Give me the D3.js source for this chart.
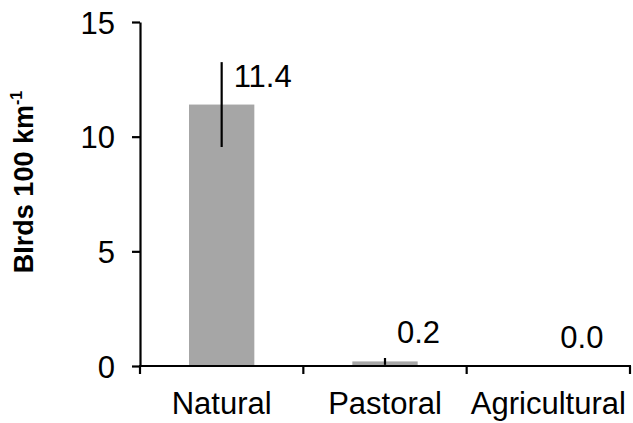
<!DOCTYPE html>
<html>
<head>
<meta charset="utf-8">
<script src="https://cdn.jsdelivr.net/npm/d3@7"></script>
<style>
html,body{margin:0;padding:0;background:#fff;}
svg{display:block;font-family:Arial,"Liberation Sans",sans-serif;}
</style>
</head>
<body>
<svg id="chart" width="633" height="423"></svg>
<script>
const categories = ["Natural", "Pastoral", "Agricultural"];
const values = [11.4, 0.2, 0.0];
const errors = [1.85, 0.15, 0];
const valueLabels = ["11.4", "0.2", "0.0"];
const yTicks = [0, 5, 10, 15];

const svg = d3.select("#chart");
const mLeft = 140, mRight = 630, mTop = 22, mBottom = 366;
const fs = 31;

const x = d3.scaleBand().domain(categories).range([mLeft, mRight]).padding(0);
const y = d3.scaleLinear().domain([0, 15]).range([mBottom, mTop]);
const barW = x.bandwidth() * 0.4;

// bars
svg.selectAll("rect.bar").data(categories).enter().append("rect")
  .attr("class", "bar")
  .attr("x", (d) => x(d) + x.bandwidth() / 2 - barW / 2)
  .attr("width", barW)
  .attr("y", (d, i) => y(values[i]))
  .attr("height", (d, i) => y(0) - y(values[i]))
  .attr("fill", "#a6a6a6");

// error bars
svg.selectAll("line.err").data(categories.filter((d, i) => errors[i] > 0)).enter().append("line")
  .attr("class", "err")
  .attr("x1", (d) => x(d) + x.bandwidth() / 2)
  .attr("x2", (d) => x(d) + x.bandwidth() / 2)
  .attr("y1", (d) => { const i = categories.indexOf(d); return y(values[i] + errors[i]); })
  .attr("y2", (d) => { const i = categories.indexOf(d); return y(Math.max(0, values[i] - errors[i])); })
  .attr("stroke", "#000").attr("stroke-width", 2.2);

// value labels
svg.selectAll("text.val").data(categories).enter().append("text")
  .attr("class", "val")
  .attr("x", (d) => x(d) + x.bandwidth() / 2 + 12)
  .attr("y", (d, i) => y(values[i]) - 18)
  .attr("font-size", fs)
  .text((d, i) => valueLabels[i]);

// y axis
const yAxis = svg.append("g").attr("transform", `translate(${mLeft},0)`)
  .call(d3.axisLeft(y).tickValues(yTicks).tickSize(8).tickSizeOuter(0).tickPadding(17).tickFormat(d3.format("d")));
yAxis.select(".domain").attr("stroke", "#000").attr("stroke-width", 2.2);
yAxis.selectAll(".tick line").attr("stroke", "#000").attr("stroke-width", 2.2);
yAxis.selectAll(".tick text").attr("font-size", fs).attr("fill", "#000").attr("font-family", "Arial, Liberation Sans, sans-serif").attr("dy", "0.36em");

// x axis line
svg.append("line").attr("x1", mLeft - 1).attr("x2", mRight + 1).attr("y1", mBottom).attr("y2", mBottom)
  .attr("stroke", "#000").attr("stroke-width", 2.2);
// boundary ticks
const bounds = categories.map((c) => x(c)).concat([x(categories[categories.length - 1]) + x.bandwidth()]);
svg.selectAll("line.xt").data(bounds).enter().append("line")
  .attr("class", "xt")
  .attr("x1", (d) => d).attr("x2", (d) => d)
  .attr("y1", mBottom).attr("y2", mBottom + 8)
  .attr("stroke", "#000").attr("stroke-width", 2.2);
// category labels
svg.selectAll("text.cat").data(categories).enter().append("text")
  .attr("class", "cat")
  .attr("x", (d) => x(d) + x.bandwidth() / 2)
  .attr("y", 414)
  .attr("text-anchor", "middle")
  .attr("font-size", fs)
  .text((d) => d);

// y axis title
const yTitle = svg.append("text")
  .attr("transform", `translate(33,182) rotate(-90)`)
  .attr("text-anchor", "middle")
  .attr("font-size", 27)
  .attr("font-weight", "bold");
yTitle.append("tspan").text("BIrds 100 km");
yTitle.append("tspan").attr("font-size", 16).attr("dy", -11).text("-1");
</script>
</body>
</html>
